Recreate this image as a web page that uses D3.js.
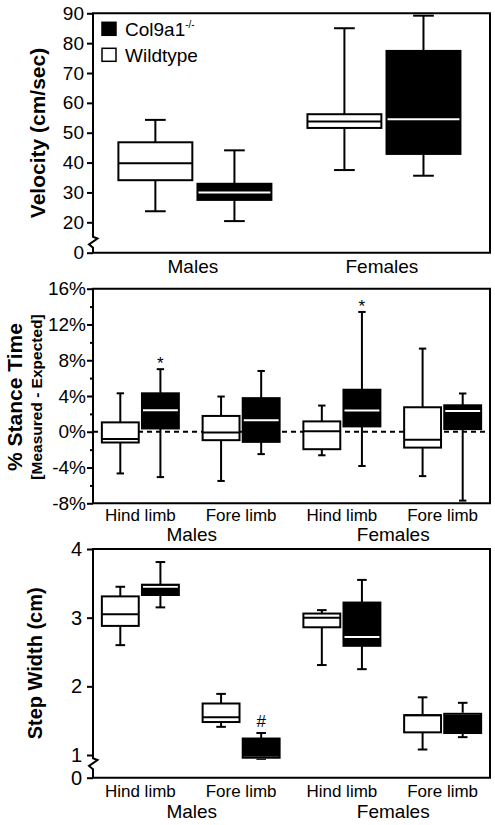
<!DOCTYPE html>
<html><head><meta charset="utf-8">
<script src="https://cdn.jsdelivr.net/npm/d3@7"></script>
<style>
body{margin:0;background:#fff}
svg{display:block}
text{font-family:"Liberation Sans",Arial,sans-serif;fill:#000}
</style>
</head><body><svg id="chart" width="495" height="825"></svg>
<script>
// ---------- DATA ----------
const seriesNames = ["Wildtype", "Col9a1"];      // plotting order left -> right
const legendNames = ["Col9a1", "Wildtype"];      // legend order
const sexes = ["Males", "Females"];
const limbs = ["Hind limb", "Fore limb"];
// box stats: [min, q1, median, q3, max]
const velocityWildtype = [[23.7, 34.1, 39.8, 46.8, 54.3], [37.5, 51.6, 53.8, 56.2, 85.0]];
const velocityCol9a1   = [[20.4, 27.5, 30.0, 32.9, 44.1], [35.6, 42.9, 54.5, 77.4, 89.2]];
const velocityTicks = [0, 20, 30, 40, 50, 60, 70, 80, 90];
// order: Males Hind, Males Fore, Females Hind, Females Fore
const stanceWildtype = [[-4.66, -1.2, -0.82, 1.05, 4.3], [-5.5, -0.94, -0.07, 1.77, 3.94],
                        [-2.63, -1.95, 0.07, 1.16, 2.93], [-4.96, -1.77, -0.9, 2.74, 9.3]];
const stanceCol9a1   = [[-5.07, 0.37, 2.4, 4.3, 7.0], [-2.5, -1.13, 1.28, 3.76, 6.8],
                        [-3.83, 0.6, 2.37, 4.7, 13.4], [-7.7, 0.3, 2.33, 2.96, 4.28]];
const stanceTicks = [-8, -4, 0, 4, 8, 12, 16];
const stanceMinorTicks = [-6, -2, 2, 6, 10, 14];
const stepWildtype = [[2.6, 2.88, 3.05, 3.31, 3.45], [1.41, 1.48, 1.55, 1.75, 1.89],
                      [2.31, 2.86, 3.0, 3.06, 3.11], [1.08, 1.33, 1.58, 1.58, 1.84]];
const stepCol9a1   = [[3.15, 3.33, 3.45, 3.48, 3.81], [0.83, 0.88, 0.88, 1.24, 1.32],
                      [2.25, 2.59, 2.72, 3.22, 3.55], [1.26, 1.32, 1.6, 1.6, 1.76]];
const stepTicks = [0, 1, 2, 3, 4];
const stanceMarks = [{sex: "Males", limb: "Hind limb", label: "*"}, {sex: "Females", limb: "Hind limb", label: "*"}];
const stepMarks = [{sex: "Males", limb: "Fore limb", label: "#"}];

// ---------- LAYOUT ----------
const svg = d3.select("#chart");
const L = 93, R = 490;
const P1 = {top: 13.3, bottom: 252.7, gap: 30.4};
const P2 = {top: 288.7, bottom: 503.3};
const P3 = {top: 549, bottom: 777.7, gap: 22.7};
const SW = 2;

const catKeys = [];
sexes.forEach(s => limbs.forEach(l => catKeys.push(s + "|" + l)));

const xVel = d3.scalePoint().domain(sexes).range([L, R]).padding(0.55).align(0.49);
const xInVel = d3.scaleBand().domain(seriesNames).range([-76.5, 76.5]).paddingInner(0.065);
const xCat = d3.scalePoint().domain(catKeys).range([L, R]).padding(0.47).align(0.5);
const xInCat = d3.scaleBand().domain(seriesNames).range([-38.5, 38.5]).paddingInner(0.08);

const yVel = d3.scaleLinear().domain([0, 20, 90]).range([P1.bottom, P1.bottom - P1.gap, P1.top]);
const yStance = d3.scaleLinear().domain([-8, 16]).range([P2.bottom, P2.top]);
const yStep = d3.scaleLinear().domain([0, 1, 4]).range([P3.bottom, P3.bottom - P3.gap, P3.top]);

function frame(p, breakTop) {
  let d = `M${L},${p.bottom} H${R} V${p.top} H${L}`;
  if (breakTop != null) {
    d += ` V${breakTop} L${L + 4.5},${breakTop + 1.8} L${L - 4},${breakTop + 7.6} L${L},${breakTop + 11} V${p.bottom}`;
  } else {
    d += ` V${p.bottom}`;
  }
  svg.append("path").attr("d", d).attr("fill", "none").attr("stroke", "#000")
    .attr("stroke-width", SW).attr("stroke-linejoin", "miter");
}

function yAxis(y, ticks, fmt, size, pad, tickLen) {
  const g = svg.append("g").attr("transform", `translate(${L},0)`)
    .call(d3.axisLeft(y).tickValues(ticks).tickFormat(fmt).tickSize(tickLen).tickPadding(pad));
  g.select(".domain").remove();
  g.attr("font-family", null).attr("font-size", null);
  g.selectAll(".tick line").attr("stroke", "#000").attr("stroke-width", SW);
  g.selectAll(".tick text").attr("font-size", size).attr("fill", "#000");
  return g;
}

function drawBoxes(data, xOuter, keys, xInner, y, capFrac) {
  const bw = xInner.bandwidth();
  const cw = bw * capFrac;
  seriesNames.forEach(s => {
    const arr = data[s];
    keys.forEach((k, i) => {
      const [mn, q1, md, q3, mx] = arr[i];
      const x0 = xOuter(k) + xInner(s);
      const cx = x0 + bw / 2;
      const g = svg.append("g");
      g.append("line").attr("x1", cx).attr("x2", cx).attr("y1", y(mn)).attr("y2", y(mx))
        .attr("stroke", "#000").attr("stroke-width", SW);
      [mn, mx].forEach(v => g.append("line").attr("x1", cx - cw / 2).attr("x2", cx + cw / 2)
        .attr("y1", y(v)).attr("y2", y(v)).attr("stroke", "#000").attr("stroke-width", SW));
      const dark = s === "Col9a1";
      g.append("rect").attr("x", x0).attr("y", y(q3)).attr("width", bw).attr("height", y(q1) - y(q3))
        .attr("fill", dark ? "#000" : "#fff");
      g.append("line").attr("x1", x0).attr("x2", x0 + bw).attr("y1", y(md)).attr("y2", y(md))
        .attr("stroke", dark ? "#fff" : "#000").attr("stroke-width", SW);
      g.append("rect").attr("x", x0).attr("y", y(q3)).attr("width", bw).attr("height", y(q1) - y(q3))
        .attr("fill", "none").attr("stroke", "#000").attr("stroke-width", SW);
    });
  });
}

function marks(list, data, y, size, off) {
  list.forEach(m => {
    const k = m.sex + "|" + m.limb;
    const i = catKeys.indexOf(k);
    const cx = xCat(k) + xInCat("Col9a1") + xInCat.bandwidth() / 2;
    svg.append("text").attr("x", cx).attr("y", y(data["Col9a1"][i][4]) - off)
      .attr("text-anchor", "middle").attr("font-size", size).text(m.label);
  });
}

function yTitle(lines, cy) {
  lines.forEach(t => {
    svg.append("text").attr("transform", `translate(${t.x},${cy}) rotate(-90)`)
      .attr("text-anchor", "middle").attr("font-weight", "bold").attr("font-size", t.size).text(t.text);
  });
}

// ---------- PANEL 1: Velocity ----------
yAxis(yVel, velocityTicks, d3.format("d"), 19, 3, 6);
frame(P1, P1.bottom - P1.gap + 14.4);
drawBoxes({Wildtype: velocityWildtype, Col9a1: velocityCol9a1}, xVel, sexes, xInVel, yVel, 0.28);
sexes.forEach(s => svg.append("text").attr("x", xVel(s) - 2).attr("y", 273).attr("text-anchor", "middle")
  .attr("font-size", 19).text(s));
yTitle([{text: "Velocity (cm/sec)", x: 45, size: 21}], (P1.top + P1.bottom) / 2);

// legend
const leg = svg.append("g");
legendNames.forEach((n, i) => {
  const yy = 22.3 + i * 26;
  leg.append("rect").attr("x", L + 9).attr("y", yy).attr("width", 14).attr("height", 13)
    .attr("fill", n === "Col9a1" ? "#000" : "#fff").attr("stroke", "#000").attr("stroke-width", 1.5);
  const t = leg.append("text").attr("x", L + 32).attr("y", yy + 13.4).attr("font-size", 19).text(n);
  if (n === "Col9a1") t.append("tspan").attr("font-size", 10).attr("dy", -8).text("-/-");
});

// ---------- PANEL 2: Stance time ----------
svg.append("line").attr("x1", L).attr("x2", R).attr("y1", yStance(0)).attr("y2", yStance(0))
  .attr("stroke", "#000").attr("stroke-width", SW).attr("stroke-dasharray", "5,4");
yAxis(yStance, stanceTicks, d => d + "%", 19, 1, 6);
yAxis(yStance, stanceMinorTicks, () => "", 19, 1, 3);
frame(P2, null);
drawBoxes({Wildtype: stanceWildtype, Col9a1: stanceCol9a1}, xCat, catKeys, xInCat, yStance, 0.2);
marks(stanceMarks, {Col9a1: stanceCol9a1}, yStance, 17, 0);
catKeys.forEach(k => svg.append("text").attr("x", xCat(k)).attr("y", 521).attr("text-anchor", "middle")
  .attr("font-size", 17).text(k.split("|")[1]));
sexes.forEach(s => {
  const c = (xCat(s + "|" + limbs[0]) + xCat(s + "|" + limbs[1])) / 2;
  svg.append("text").attr("x", c + 1).attr("y", 541).attr("text-anchor", "middle").attr("font-size", 19).text(s);
});
yTitle([{text: "% Stance Time", x: 22, size: 21}, {text: "[Measured - Expected]", x: 42, size: 15.5}], (P2.top + P2.bottom) / 2 + 1);

// ---------- PANEL 3: Step width ----------
yAxis(yStep, stepTicks, d3.format("d"), 20, 5, 6);
frame(P3, P3.bottom - P3.gap + 3.3);
drawBoxes({Wildtype: stepWildtype, Col9a1: stepCol9a1}, xCat, catKeys, xInCat, yStep, 0.26);
marks(stepMarks, {Col9a1: stepCol9a1}, yStep, 17, 6);
catKeys.forEach(k => svg.append("text").attr("x", xCat(k)).attr("y", 797).attr("text-anchor", "middle")
  .attr("font-size", 17).text(k.split("|")[1]));
sexes.forEach(s => {
  const c = (xCat(s + "|" + limbs[0]) + xCat(s + "|" + limbs[1])) / 2;
  svg.append("text").attr("x", c + 1).attr("y", 818).attr("text-anchor", "middle").attr("font-size", 19).text(s);
});
yTitle([{text: "Step Width (cm)", x: 42, size: 20}], (P3.top + P3.bottom) / 2);
</script>
</body></html>
